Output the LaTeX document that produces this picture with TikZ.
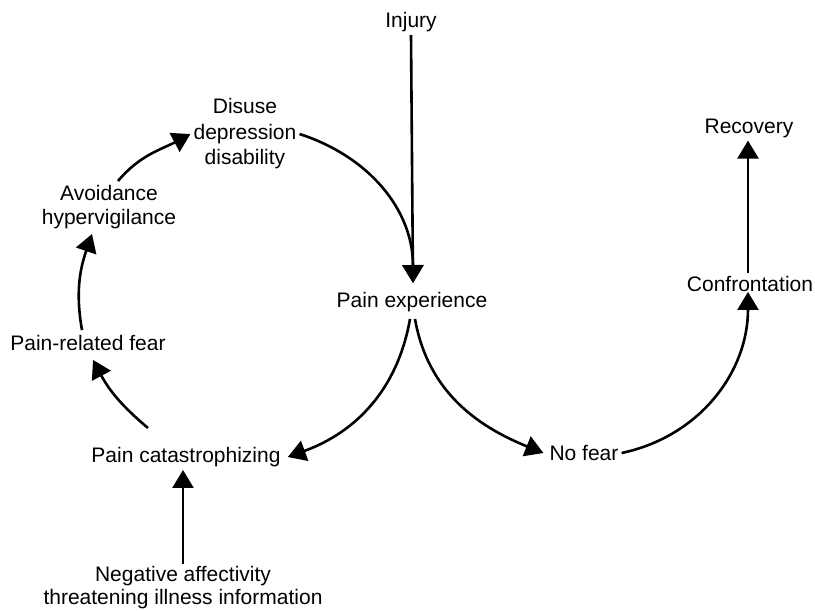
\documentclass[tikz,border=0pt]{standalone}
\usepackage{fontspec}
\setmainfont{Liberation Sans}
\usetikzlibrary{arrows.meta}

\begin{document}
\begin{tikzpicture}[x=1pt,y=-1pt,
  lbl/.style={inner sep=3pt, font=\fontsize{21}{25.5}\selectfont, align=center},
  link/.style={line width=2.6pt, -{Triangle[length=18pt,width=21pt]}}]
  \useasboundingbox (0,0) rectangle (815,611);

  % states of the cycle
  \node[lbl] (inj)  at (411,22)  {Injury};
  \node[lbl] (pexp) at (412,302) {Pain experience};
  \node[lbl] (dis)  at (245,134) {Disuse\\depression\\disability};
  \node[lbl, font=\fontsize{21}{24}\selectfont] (avo) at (109,207) {Avoidance\\hypervigilance};
  \node[lbl] (prf)  at (88,343)  {Pain-related fear};
  \node[lbl] (pcat) at (186,457) {Pain catastrophizing};
  \node[lbl, font=\fontsize{21}{23}\selectfont] (neg) at (183,588) {Negative affectivity\\threatening illness information};
  \node[lbl] (nof)  at (584,453) {No fear};
  \node[lbl] (conf) at (750,284) {Confrontation};
  \node[lbl] (rec)  at (749,128) {Recovery};

  % shared tip above "Pain experience"
  \coordinate (pin) at ([xshift=1pt,yshift=6pt]pexp.north);

  % straight links
  \draw[link] (inj.south) -- (pin);
  \draw[link] (neg.north) -- ([xshift=-3pt]pcat.south);
  \draw[link] ([xshift=-2pt]conf.north) -- ([xshift=-1pt]rec.south);

  % left loop: fear-avoidance cycle
  \draw[link] (dis.east) to[out=-18, in=90] (pin);
  \draw[link] ([xshift=-2pt,yshift=-4pt]pexp.south) to[out=-100, in=20] ([xshift=4pt]pcat.east);
  \draw[link] ([xshift=-38pt,yshift=16pt]pcat.north) to[out=140, in=-62] ([xshift=5pt,yshift=-6pt]prf.south);
  \draw[link] ([xshift=-6pt,yshift=2pt]prf.north) to[out=100, in=-109] ([xshift=-17pt,yshift=-2pt]avo.south);
  \draw[link] ([xshift=9pt,yshift=1pt]avo.north) to[out=50, in=-152] (dis.west);

  % right path: recovery
  \draw[link] ([xshift=3pt,yshift=-4pt]pexp.south) to[out=-80, in=158] ([xshift=-3pt]nof.west);
  \draw[link] (nof.east) to[out=12, in=-90] ([xshift=-2pt,yshift=3pt]conf.south);
\end{tikzpicture}
\end{document}
